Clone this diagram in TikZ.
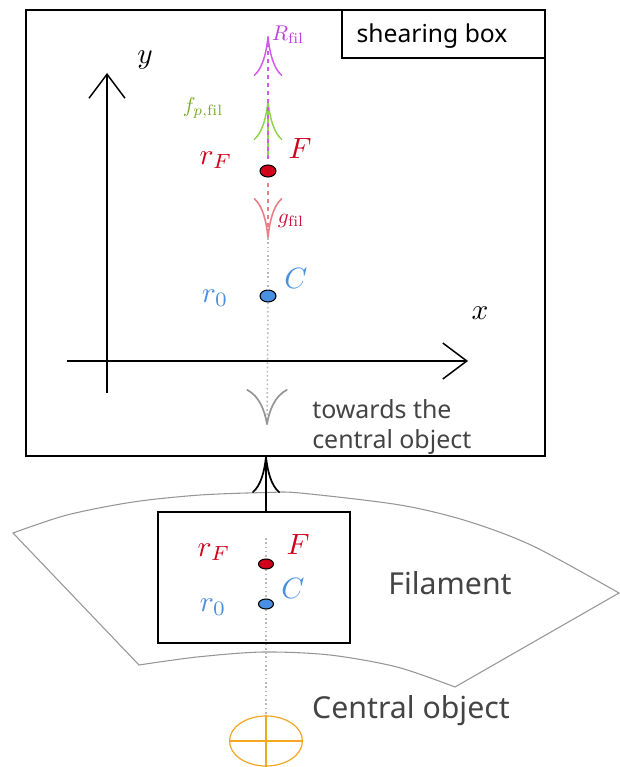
\documentclass[tikz,border=0pt]{standalone}
\usepackage{fontspec}
\newfontfamily\noto{Noto Sans}
\usetikzlibrary{arrows.meta,shapes.geometric}
\definecolor{cred}{RGB}{208,2,27}
\definecolor{cblue}{RGB}{74,144,226}
\definecolor{cmag}{RGB}{210,90,235}
\definecolor{cmaglab}{RGB}{190,60,225}
\definecolor{cgreen}{RGB}{145,210,75}
\definecolor{cgreenlab}{RGB}{120,170,45}
\definecolor{cpink}{RGB}{235,125,135}
\definecolor{cglab}{RGB}{200,20,60}
\definecolor{corange}{RGB}{245,166,35}
\definecolor{ctext}{RGB}{68,68,68}
\definecolor{cdot}{RGB}{185,185,185}
\definecolor{cgrayarrow}{RGB}{150,150,150}
\definecolor{csector}{RGB}{150,150,150}
\newcommand{\mybigmath}[1]{\scalebox{2.2}{$#1$}}
\newcommand{\mysmallmath}[1]{\scalebox{1.6}{$#1$}}
\begin{document}
\begin{tikzpicture}[x=0.75pt,y=-0.75pt,
  cmhead/.style={-{Computer Modern Rightarrow[length=30pt,width=21.5pt]}},
  axhead/.style={-{Straight Barb[length=18pt,width=27pt]}},
  mathlab/.style={inner sep=0pt},
  sans/.style={font=\noto\fontsize{#1}{#1}\selectfont, inner sep=0pt},
  ptdot/.style={shape=ellipse, draw=black, line width=0.8pt, inner sep=0pt},
  dotline/.style={cdot, dotted, line width=1.2pt}
]
\useasboundingbox (0,0) rectangle (619,767);

% main shearing box
\draw[line width=1pt] (26,10) rectangle (545,456);
\draw[line width=1pt] (342,10) rectangle (545,58);
\node[sans=18.5] (sb) at (432,36) {shearing box};

% axes
\coordinate (yb) at (107,393);
\coordinate (yt) at (107,73);
\coordinate (xl) at (67,361);
\coordinate (xr) at (468,361);
\draw[axhead, line width=1.1pt] (yb) -- (yt);
\draw[axhead, line width=1.1pt] (xl) -- (xr);
\node[mathlab] (ylab) at (145,60) {\mybigmath{y}};
\node[mathlab] (xlab) at (480,313) {\mybigmath{x}};

% points
\node[ptdot, fill=cred, minimum width=12pt, minimum height=9pt] (F) at (268,171) {};
\node[ptdot, fill=cblue, minimum width=12pt, minimum height=9pt] (C) at (268,296) {};

\coordinate (Rtip) at (268,36);
\coordinate (ftip) at (268,100);
\coordinate (gtip) at (268,238);
\coordinate (ttip) at (267,425);
\coordinate (tpre) at (267,423);

% dotted line and towards arrow
\draw[dotline] (gtip) -- (C);
\draw[dotline] (C) -- (ttip);
\draw[cgrayarrow, line width=1.3pt, -{Computer Modern Rightarrow[length=27pt,width=31pt]}] (tpre) -- (ttip);

% force arrows
\draw[cgreen, line width=1.1pt, cmhead, shorten <=4pt] (F) -- (ftip);
\draw[cmag, line width=1.1pt, dashed, cmhead, shorten <=4pt] (F) -- (Rtip);
\draw[cpink, line width=1.2pt, dashed, cmhead, shorten <=4pt] (F) -- (gtip);

% labels
\node[mathlab, text=cmaglab] (Rlab) at (288,35) {\mysmallmath{R_{\mathrm{fil}}}};
\node[mathlab, text=cgreenlab] (flab) at (203,108) {\mysmallmath{f_{p,\mathrm{fil}}}};
\node[mathlab, text=cglab] (glab) at (291,221) {\mysmallmath{g_{\mathrm{fil}}}};
\node[mathlab, text=cred] (Flab) at (300,148) {\mybigmath{F}};
\node[mathlab, text=cred] (rFlab) at (216,160) {\mybigmath{r_F}};
\node[mathlab, text=cblue] (Clab) at (296,278) {\mybigmath{C}};
\node[mathlab, text=cblue] (r0lab) at (215,298) {\mybigmath{r_0}};

\node[font=\noto\fontsize{18.7}{22.5}\selectfont, inner sep=0pt, text=ctext, align=left, anchor=west] (tw) at (312,427) {towards the\\central object};

% filament sector
\draw[csector, line width=0.8pt]
  plot[smooth] coordinates {(13,533) (67,515) (133,502) (200,495) (267,492.5) (300,493) (400,505) (467,521) (533,546) (619,593)}
  -- (455,687)
  -- plot[smooth] coordinates {(455,687) (397,667) (330,655) (263,652) (197,657) (139,665)}
  -- cycle;
\node[sans=22.7, text=ctext] (fil) at (450,583) {Filament};

% small box
\node[draw, line width=1pt, minimum width=144pt, minimum height=98.25pt, inner sep=0pt] (fbox) at (254,577.5) {};
\coordinate (fboxtop) at (266,512);
\coordinate (mainbot) at (266,456);
\draw[line width=1.3pt, -{Computer Modern Rightarrow[length=27.75pt,width=21pt]}] (fboxtop) -- (mainbot);

\node[ptdot, fill=cred, minimum width=11.25pt, minimum height=7.5pt] (F2) at (266,564) {};
\node[ptdot, fill=cblue, minimum width=11.25pt, minimum height=7.5pt] (C2) at (266,604) {};
\node[mathlab, text=cred] (F2lab) at (298,544) {\mybigmath{F}};
\node[mathlab, text=cred] (rF2lab) at (214,552) {\mybigmath{r_F}};
\node[mathlab, text=cblue] (C2lab) at (293,588) {\mybigmath{C}};
\node[mathlab, text=cblue] (r02lab) at (213,607) {\mybigmath{r_0}};

% central object
\node[shape=ellipse, draw=corange, line width=0.9pt, minimum width=54.75pt, minimum height=37.5pt, inner sep=0pt] (co) at (266,741) {};
\draw[corange, line width=0.9pt] (co.west) -- (co.east);
\draw[corange, line width=0.9pt] (co.north) -- (co.south);
\coordinate (dtop) at (266,538);
\draw[dotline] (dtop) -- (F2);
\draw[dotline] (F2) -- (C2);
\draw[dotline] (C2) -- (co.north);
\node[sans=22.7, text=ctext] (colab) at (411,711) {Central object};
\end{tikzpicture}
\end{document}
